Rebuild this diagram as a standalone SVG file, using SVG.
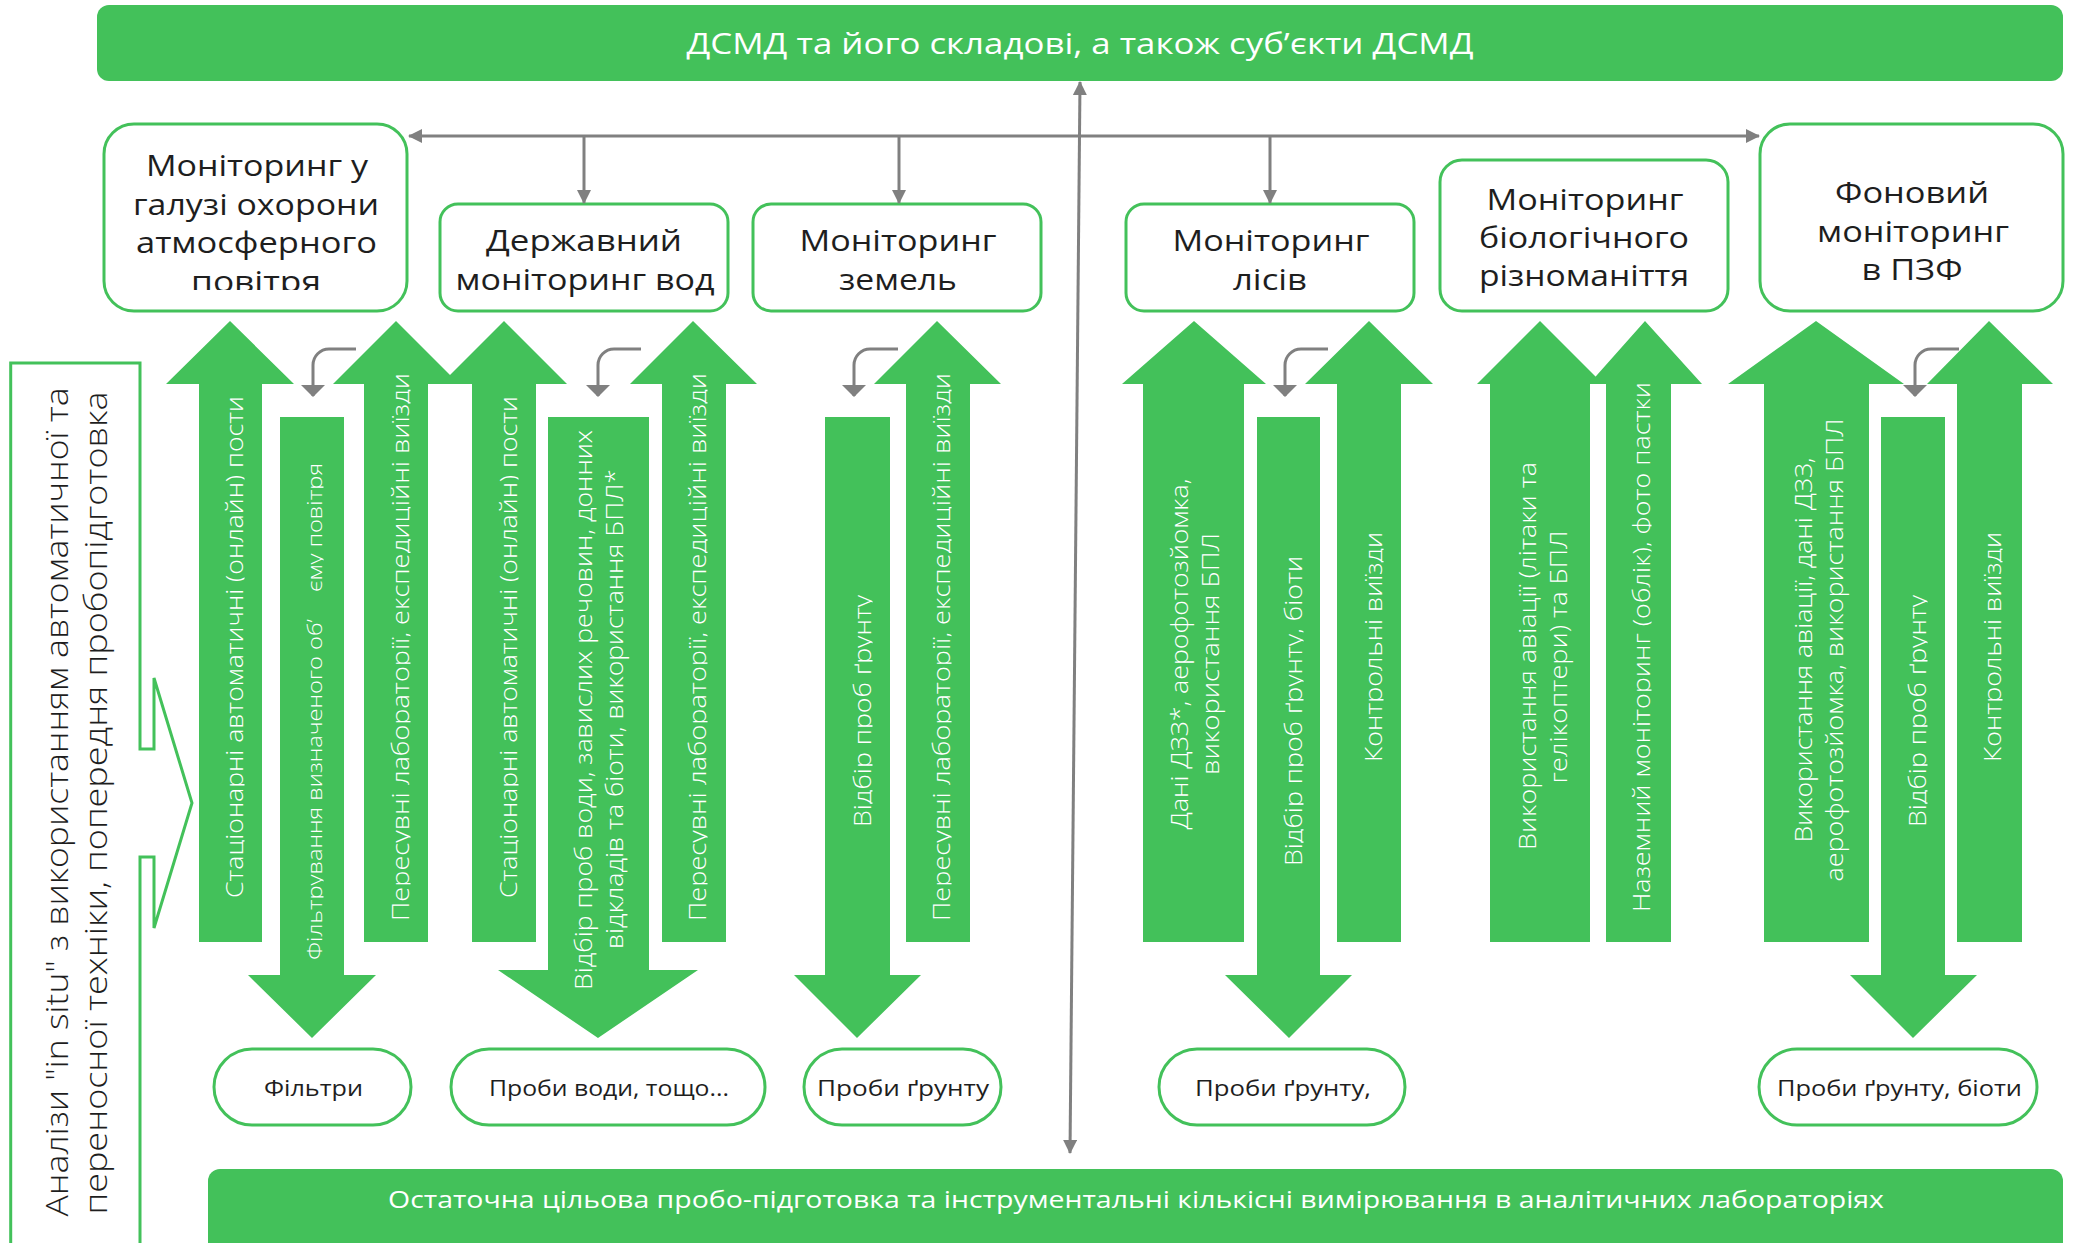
<svg xmlns="http://www.w3.org/2000/svg" width="2076" height="1243" viewBox="0 0 2076 1243">
<style>
.bar{fill:#43c15a}
.box{fill:#fff;stroke:#43c15a;stroke-width:3}
.arr{fill:#43c15a}
.con{fill:none;stroke:#808080;stroke-width:3}
.t{font-family:"Open Sans","Noto Sans",sans-serif;fill:#1e1e1e}
.w{font-family:"Open Sans","Noto Sans",sans-serif;fill:#fff}
.title{font-size:30px;text-anchor:middle}
.at{font-size:24px;text-anchor:middle;font-weight:300}
.ov{font-size:22px;text-anchor:middle}
</style>
<defs>
<marker id="ah" viewBox="0 0 14 14" refX="13" refY="7" markerWidth="14" markerHeight="14" markerUnits="userSpaceOnUse" orient="auto-start-reverse"><path d="M0,0 L14,7 L0,14 z" fill="#808080"/></marker>
<marker id="ahc" viewBox="0 0 12 24" refX="11" refY="12" markerWidth="12" markerHeight="24" markerUnits="userSpaceOnUse" orient="auto"><path d="M0,0 L12,12 L0,24 z" fill="#808080"/></marker>
<clipPath id="desc" clipPathUnits="userSpaceOnUse"><rect x="-1000" y="-100" width="2000" height="101.5"/></clipPath>
<clipPath id="b1clip"><rect x="104" y="124" width="303" height="166"/></clipPath>
</defs>

<g id="top-bar">
<rect class="bar" x="97" y="5" width="1966" height="76" rx="12"/>
<text class="w" x="1080" y="54" font-size="30" font-weight="500" text-anchor="middle" textLength="787" lengthAdjust="spacingAndGlyphs">ДСМД та його складові, а також суб’єкти ДСМД</text>
</g>

<g id="bottom-bar">
<rect class="bar" x="208" y="1169" width="1855" height="100" rx="12"/>
<text class="w" x="1136" y="1208" font-size="23" font-weight="500" text-anchor="middle" textLength="1496" lengthAdjust="spacingAndGlyphs">Остаточна цільова пробо-підготовка та інструментальні кількісні вимірювання в аналітичних лабораторіях</text>
</g>

<g id="in-situ">
<path class="box" d="M10.7,1260 V363 H140 V749 H154 V678 L192,803 L154,928 V857 H140 V1260"/>
<text class="t" font-size="32" font-weight="300" text-anchor="middle" transform="translate(68,802) rotate(-90)" textLength="829" lengthAdjust="spacingAndGlyphs">Аналізи "in situ" з використанням автоматичної та</text>
<text class="t" font-size="32" font-weight="300" text-anchor="middle" transform="translate(107,803) rotate(-90)" textLength="823" lengthAdjust="spacingAndGlyphs">переносної техніки, попередня пробопідготовка</text>
</g>

<g id="box-air">
<rect class="box" x="104" y="124" width="303" height="187" rx="30"/>
<g clip-path="url(#b1clip)">
<text class="t title" x="257" y="176" textLength="222" lengthAdjust="spacingAndGlyphs">Моніторинг у</text>
<text class="t title" x="256" y="215" textLength="246" lengthAdjust="spacingAndGlyphs">галузі охорони</text>
<text class="t title" x="256.5" y="253" textLength="241" lengthAdjust="spacingAndGlyphs">атмосферного</text>
<text class="t title" x="256" y="292" textLength="130" lengthAdjust="spacingAndGlyphs">повітря</text>
</g>
</g>
<g id="box-water">
<rect class="box" x="440" y="204" width="288" height="107" rx="18"/>
<text class="t title" x="584" y="251" textLength="196" lengthAdjust="spacingAndGlyphs">Державний</text>
<text class="t title" x="585" y="290" textLength="259" lengthAdjust="spacingAndGlyphs">моніторинг вод</text>
</g>
<g id="box-land">
<rect class="box" x="753" y="204" width="288" height="107" rx="18"/>
<text class="t title" x="898" y="251" textLength="197" lengthAdjust="spacingAndGlyphs">Моніторинг</text>
<text class="t title" x="898" y="290" textLength="118" lengthAdjust="spacingAndGlyphs">земель</text>
</g>
<g id="box-forest">
<rect class="box" x="1126" y="204" width="288" height="107" rx="18"/>
<text class="t title" x="1271" y="251" textLength="197" lengthAdjust="spacingAndGlyphs">Моніторинг</text>
<text class="t title" x="1270" y="290" textLength="74" lengthAdjust="spacingAndGlyphs">лісів</text>
</g>
<g id="box-bio">
<rect class="box" x="1440" y="160" width="288" height="151" rx="22"/>
<text class="t title" x="1585" y="210" textLength="197" lengthAdjust="spacingAndGlyphs">Моніторинг</text>
<text class="t title" x="1584" y="248" textLength="210" lengthAdjust="spacingAndGlyphs">біологічного</text>
<text class="t title" x="1584" y="286" textLength="210" lengthAdjust="spacingAndGlyphs">різноманіття</text>
</g>
<g id="box-pzf">
<rect class="box" x="1760" y="124" width="303" height="187" rx="30"/>
<text class="t title" x="1912" y="203" textLength="154" lengthAdjust="spacingAndGlyphs">Фоновий</text>
<text class="t title" x="1913" y="242" textLength="192" lengthAdjust="spacingAndGlyphs">моніторинг</text>
<text class="t title" x="1912" y="280" textLength="101" lengthAdjust="spacingAndGlyphs">в ПЗФ</text>
</g>

<g id="arrow-a1">
<polygon class="arr" points="230,321 294,384 262,384 262,942 199,942 199,384 166,384"/>
<text class="w at" transform="translate(243,647) rotate(-90)" clip-path="url(#desc)" textLength="502" lengthAdjust="spacingAndGlyphs">Стаціонарні автоматичні (онлайн) пости</text>
</g>
<g id="arrow-a2">
<polygon class="arr" points="280,417 344,417 344,975 376,975 312,1038 248,975 280,975"/>
<text class="w" font-size="20" font-weight="300" transform="translate(322,960) rotate(-90)" clip-path="url(#desc)" textLength="341" lengthAdjust="spacingAndGlyphs">Фільтрування визначеного об’</text>
<text class="w" font-size="20" font-weight="300" transform="translate(322,592) rotate(-90)" clip-path="url(#desc)" textLength="129" lengthAdjust="spacingAndGlyphs">єму повітря</text>
</g>
<g id="arrow-a3">
<polygon class="arr" points="396,321 459,384 428,384 428,942 364,942 364,384 333,384"/>
<text class="w at" transform="translate(409,647) rotate(-90)" clip-path="url(#desc)" textLength="548" lengthAdjust="spacingAndGlyphs">Пересувні лабораторії, експедиційні виїзди</text>
</g>
<g id="arrow-a4">
<polygon class="arr" points="504,321 567,384 536,384 536,942 472,942 472,384 441,384"/>
<text class="w at" transform="translate(517,647) rotate(-90)" clip-path="url(#desc)" textLength="502" lengthAdjust="spacingAndGlyphs">Стаціонарні автоматичні (онлайн) пости</text>
</g>
<g id="arrow-a5">
<polygon class="arr" points="548,417 649,417 649,970 698,970 598,1038 498,970 548,970"/>
<text class="w at" transform="translate(592,710) rotate(-90)" textLength="560" lengthAdjust="spacingAndGlyphs">Відбір проб води, завислих речовин, донних</text>
<text class="w at" transform="translate(623,709) rotate(-90)" textLength="480" lengthAdjust="spacingAndGlyphs">відкладів та біоти, використання БПЛ*</text>
</g>
<g id="arrow-a6">
<polygon class="arr" points="693,321 757,384 726,384 726,942 662,942 662,384 630,384"/>
<text class="w at" transform="translate(706,647) rotate(-90)" clip-path="url(#desc)" textLength="548" lengthAdjust="spacingAndGlyphs">Пересувні лабораторії, експедиційні виїзди</text>
</g>
<g id="arrow-a7">
<polygon class="arr" points="825,417 890,417 890,975 921,975 857,1038 794,975 825,975"/>
<text class="w at" transform="translate(871,711) rotate(-90)" clip-path="url(#desc)" textLength="232" lengthAdjust="spacingAndGlyphs">Відбір проб ґрунту</text>
</g>
<g id="arrow-a8">
<polygon class="arr" points="937,321 1001,384 970,384 970,942 906,942 906,384 874,384"/>
<text class="w at" transform="translate(950,647) rotate(-90)" clip-path="url(#desc)" textLength="548" lengthAdjust="spacingAndGlyphs">Пересувні лабораторії, експедиційні виїзди</text>
</g>
<g id="arrow-a9">
<polygon class="arr" points="1194,321 1266,384 1244,384 1244,942 1143,942 1143,384 1122,384"/>
<text class="w at" transform="translate(1188,654) rotate(-90)" textLength="351" lengthAdjust="spacingAndGlyphs">Дані ДЗЗ*, аерофотозйомка,</text>
<text class="w at" transform="translate(1219,654) rotate(-90)" textLength="242" lengthAdjust="spacingAndGlyphs">використання БПЛ</text>
</g>
<g id="arrow-a10">
<polygon class="arr" points="1257,417 1320,417 1320,975 1352,975 1289,1038 1225,975 1257,975"/>
<text class="w at" transform="translate(1302,711) rotate(-90)" clip-path="url(#desc)" textLength="310" lengthAdjust="spacingAndGlyphs">Відбір проб ґрунту, біоти</text>
</g>
<g id="arrow-a11">
<polygon class="arr" points="1369,321 1433,384 1401,384 1401,942 1337,942 1337,384 1305,384"/>
<text class="w at" transform="translate(1382,647) rotate(-90)" clip-path="url(#desc)" textLength="230" lengthAdjust="spacingAndGlyphs">Контрольні виїзди</text>
</g>
<g id="arrow-a12">
<polygon class="arr" points="1540,321 1603,384 1590,384 1590,942 1490,942 1490,384 1477,384"/>
<text class="w at" transform="translate(1536,656) rotate(-90)" textLength="388" lengthAdjust="spacingAndGlyphs">Використання авіації (літаки та</text>
<text class="w at" transform="translate(1567,657) rotate(-90)" textLength="253" lengthAdjust="spacingAndGlyphs">гелікоптери) та БПЛ</text>
</g>
<g id="arrow-a13">
<polygon class="arr" points="1645,321 1702,384 1671,384 1671,942 1606,942 1606,384 1589,384"/>
<text class="w at" transform="translate(1650,647) rotate(-90)" clip-path="url(#desc)" textLength="530" lengthAdjust="spacingAndGlyphs">Наземний моніторинг (облік), фото пастки</text>
</g>
<g id="arrow-a14">
<polygon class="arr" points="1816,321 1904,384 1869,384 1869,942 1764,942 1764,384 1728,384"/>
<text class="w at" transform="translate(1812,650) rotate(-90)" textLength="385" lengthAdjust="spacingAndGlyphs">Використання авіації, дані ДЗЗ,</text>
<text class="w at" transform="translate(1843,650) rotate(-90)" textLength="463" lengthAdjust="spacingAndGlyphs">аерофотозйомка, використання БПЛ</text>
</g>
<g id="arrow-a15">
<polygon class="arr" points="1881,417 1945,417 1945,975 1977,975 1913,1038 1850,975 1881,975"/>
<text class="w at" transform="translate(1926,711) rotate(-90)" clip-path="url(#desc)" textLength="232" lengthAdjust="spacingAndGlyphs">Відбір проб ґрунту</text>
</g>
<g id="arrow-a16">
<polygon class="arr" points="1989,321 2053,384 2022,384 2022,942 1957,942 1957,384 1927,384"/>
<text class="w at" transform="translate(2001,647) rotate(-90)" clip-path="url(#desc)" textLength="230" lengthAdjust="spacingAndGlyphs">Контрольні виїзди</text>
</g>

<g id="oval-filters">
<rect class="box" x="214" y="1049" width="197" height="76" rx="38"/>
<text class="t ov" x="313.5" y="1096" textLength="99" lengthAdjust="spacingAndGlyphs">Фільтри</text>
</g>
<g id="oval-water">
<rect class="box" x="451" y="1049" width="314" height="76" rx="38"/>
<text class="t ov" x="609" y="1096" textLength="240" lengthAdjust="spacingAndGlyphs">Проби води, тощо...</text>
</g>
<g id="oval-soil">
<rect class="box" x="804" y="1049" width="197" height="76" rx="38"/>
<text class="t ov" x="903" y="1096" textLength="172" lengthAdjust="spacingAndGlyphs">Проби ґрунту</text>
</g>
<g id="oval-soil2">
<rect class="box" x="1159" y="1049" width="246" height="76" rx="38"/>
<text class="t ov" x="1283" y="1096" textLength="176" lengthAdjust="spacingAndGlyphs">Проби ґрунту,</text>
</g>
<g id="oval-soil-biota">
<rect class="box" x="1759" y="1049" width="278" height="76" rx="38"/>
<text class="t ov" x="1899.5" y="1096" textLength="245" lengthAdjust="spacingAndGlyphs">Проби ґрунту, біоти</text>
</g>

<g id="connectors">
<path class="con" d="M1080,82 L1070,1153" marker-start="url(#ah)" marker-end="url(#ah)"/>
<path class="con" d="M409,136 H1759" marker-start="url(#ah)" marker-end="url(#ah)"/>
<path class="con" d="M584,136 V203" marker-end="url(#ah)"/>
<path class="con" d="M899,136 V203" marker-end="url(#ah)"/>
<path class="con" d="M1270,136 V203" marker-end="url(#ah)"/>
<path class="con" d="M356,349 H329 A16,16 0 0 0 313,365 V396" marker-end="url(#ahc)"/>
<path class="con" d="M641,349 H614 A16,16 0 0 0 598,365 V396" marker-end="url(#ahc)"/>
<path class="con" d="M898,349 H870 A16,16 0 0 0 854,365 V396" marker-end="url(#ahc)"/>
<path class="con" d="M1328,349 H1301 A16,16 0 0 0 1285,365 V396" marker-end="url(#ahc)"/>
<path class="con" d="M1959,349 H1931 A16,16 0 0 0 1915,365 V396" marker-end="url(#ahc)"/>
</g>
</svg>
